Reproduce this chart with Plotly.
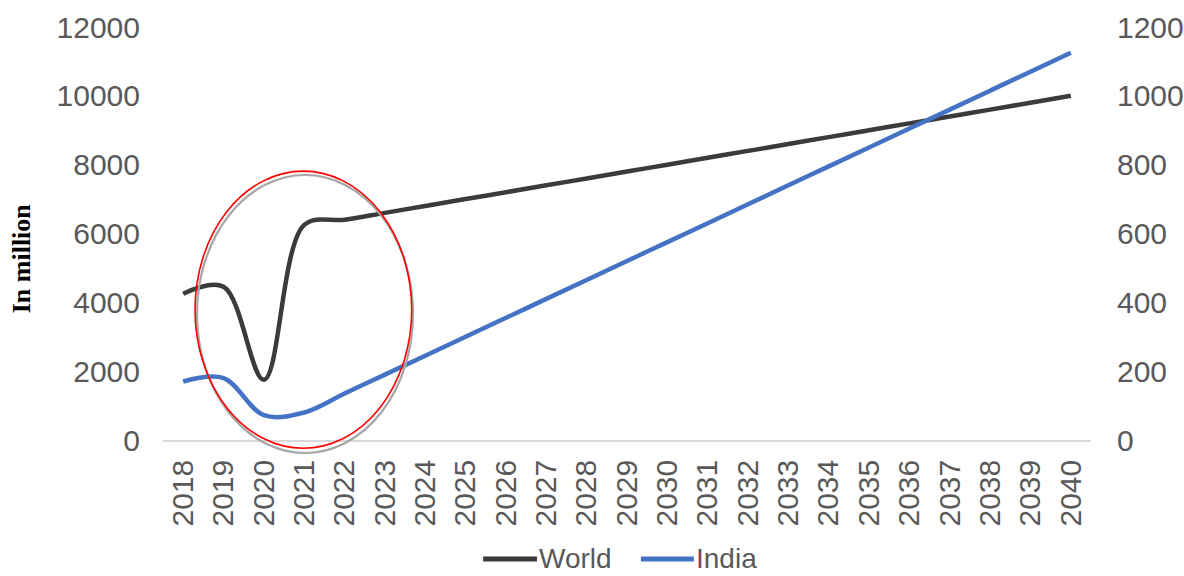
import plotly.graph_objects as go

years = [str(y) for y in range(2018, 2041)]

# World (left axis, in million)
world = [4250, 4450, 1750, 6250, 6400, 6600, 6800, 7000, 7200, 7400, 7600, 7800,
         8000, 8200, 8400, 8600, 8800, 9000, 9200, 9400, 9600, 9800, 10000]

# India (right axis, in million)
india = [170, 180, 72, 80, 135, 190, 245, 300, 355, 410, 465, 520,
         575, 630, 685, 740, 795, 850, 905, 960, 1015, 1070, 1125]

left_ticks = [0, 2000, 4000, 6000, 8000, 10000, 12000]
right_ticks = [0, 200, 400, 600, 800, 1000, 1200]

WORLD_COLOR = "#3b3b3b"
INDIA_COLOR = "#4472C4"
SANS = "Liberation Sans, Arial, sans-serif"
TICK_FONT = dict(family=SANS, size=30, color="#595959")

fig = go.Figure()
fig.add_trace(go.Scatter(
    x=years, y=world, name="World", mode="lines",
    line=dict(color=WORLD_COLOR, width=4.5, shape="spline", smoothing=1.0),
    yaxis="y", showlegend=False,
))
fig.add_trace(go.Scatter(
    x=years, y=india, name="India", mode="lines",
    line=dict(color=INDIA_COLOR, width=4.5, shape="spline", smoothing=1.0),
    yaxis="y2", showlegend=False,
))

# highlight ring around the 2019-2022 dip (soft grey shadow under a red outline)
fig.add_shape(type="circle", xref="paper", yref="paper",
              x0=0.0366, x1=0.2694, y0=-0.0315, y1=0.6416,
              line=dict(color="#a6a6a6", width=2.2), layer="above")
fig.add_shape(type="circle", xref="paper", yref="paper",
              x0=0.0345, x1=0.2680, y0=-0.0200, y1=0.6510,
              line=dict(color="#ff0000", width=1.6), layer="above")

# legend below the axis: long line swatches followed by the series names
LEGEND_Y = -0.2880
for name, color, x0, x1 in [("World", WORLD_COLOR, 0.3450, 0.4030),
                            ("India", INDIA_COLOR, 0.5150, 0.5720)]:
    fig.add_shape(type="line", xref="paper", yref="paper",
                  x0=x0, x1=x1, y0=LEGEND_Y, y1=LEGEND_Y,
                  line=dict(color=color, width=5))
    fig.add_annotation(text=name, xref="paper", yref="paper",
                       x=x1 + 0.001, y=LEGEND_Y, xanchor="left", yanchor="middle",
                       showarrow=False, borderpad=0,
                       font=dict(family=SANS, size=28, color="#595959"))

fig.add_annotation(
    text="<b>In million</b>", xref="paper", yref="paper",
    x=-0.153, y=0.44, textangle=-90, showarrow=False,
    font=dict(family="Liberation Serif, Times New Roman, serif", size=26, color="#000000"),
    xanchor="center", yanchor="middle",
)

fig.update_layout(
    width=1184, height=576,
    margin=dict(l=163, r=93, t=27, b=136, autoexpand=False),
    paper_bgcolor="white", plot_bgcolor="white",
    showlegend=False,
    xaxis=dict(
        type="category", range=[-0.5, len(years) - 0.5], tickangle=-90, tickfont=TICK_FONT,
        showgrid=False, zeroline=False,
        showline=True, linecolor="#d9d9d9", linewidth=1.5,
        ticks="", ticklabelstandoff=6,
    ),
    yaxis=dict(
        range=[0, 12000], tickvals=left_ticks, ticktext=[str(v) for v in left_ticks],
        tickfont=TICK_FONT, showgrid=False, zeroline=False, showline=False,
        ticks="", ticklabelstandoff=22,
    ),
    yaxis2=dict(
        range=[0, 1200], tickvals=right_ticks, ticktext=[str(v) for v in right_ticks],
        tickfont=TICK_FONT, overlaying="y", side="right",
        showgrid=False, zeroline=False, showline=False,
        ticks="", ticklabelstandoff=25,
    ),
)

fig.write_html("out.html")
